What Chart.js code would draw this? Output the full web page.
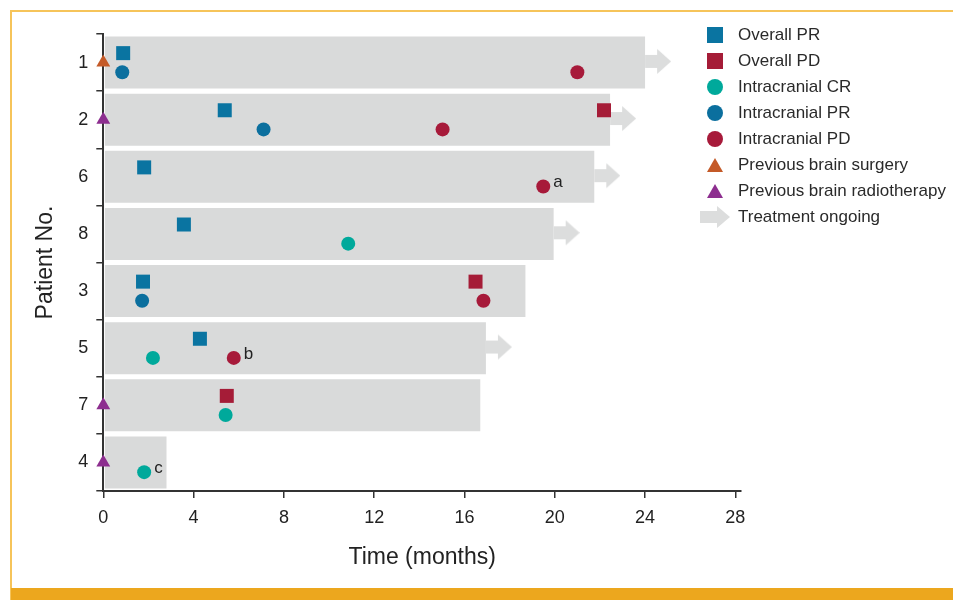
<!DOCTYPE html>
<html>
<head>
<meta charset="utf-8">
<script src="https://cdn.jsdelivr.net/npm/chart.js@4.4.1/dist/chart.umd.min.js"></script>
<style>
  html, body { margin: 0; padding: 0; background: #fff; }
  body { width: 953px; height: 600px; position: relative; overflow: hidden; font-family: "Liberation Sans", Arial, sans-serif; }
  #chart1 { position: absolute; left: 0; top: 0; }
  .frame-top { position: absolute; left: 10px; top: 10px; width: 943px; height: 2px; background: #f6c45a; }
  .frame-left { position: absolute; left: 10px; top: 10px; width: 2px; height: 590px; background: #f6c45a; }
  .frame-bottom { position: absolute; left: 11px; top: 588px; width: 942px; height: 12px; background: #eca71e; }
  #legend { position: absolute; left: 690px; top: 22px; }
  .item { height: 26px; display: flex; align-items: center; font-size: 17px; color: #2a2a2a; white-space: nowrap; }
  .item canvas { display: block; }
</style>
</head>
<body>
<canvas id="chart1" width="953" height="588"></canvas>
<div class="frame-top"></div>
<div class="frame-left"></div>
<div class="frame-bottom"></div>
<div id="legend"></div>
<script>
const patients = ["1", "2", "6", "8", "3", "5", "7", "4"];
const duration = [24.0, 22.45, 21.75, 19.95, 18.7, 16.95, 16.7, 2.8];
const ongoing = ["1", "2", "6", "8", "5"];

// [patient, month]
const overallPR = [["1", 0.88], ["2", 5.38], ["6", 1.81], ["8", 3.57], ["3", 1.76], ["5", 4.28]];
const overallPD = [["2", 22.18], ["3", 16.49], ["7", 5.47]];
const intraCR = [["8", 10.85], ["5", 2.2], ["7", 5.42], ["4", 1.81]];
const intraPR = [["1", 0.84], ["2", 7.1], ["3", 1.72]];
const intraPD = [["1", 21.0], ["2", 15.03], ["6", 19.49], ["3", 16.84], ["5", 5.78]];
const brainSurgery = ["1"];
const brainRadio = ["2", "7", "4"];
const footnotes = [["6", 19.49, "a"], ["5", 5.78, "b"], ["4", 1.81, "c"]];

const xTicks = [0, 4, 8, 12, 16, 20, 24, 28];

// vertical offsets inside a patient row (in row units)
const SQ = -0.165, CI = 0.17, TRI = 0.0, ARW = -0.02;

const rowOf = (p) => patients.indexOf(p);
const pts = (list, dy) => list.map(([p, m]) => ({ x: m, y: rowOf(p) + dy }));

// arrow drawn on the right half so the image starts at the bar end
function arrowImage(len, shaftLen, shaftH, headH, color) {
  const c = document.createElement("canvas");
  c.width = len * 2;
  c.height = headH + 2;
  const g = c.getContext("2d");
  const cy = c.height / 2;
  g.fillStyle = color;
  g.fillRect(len, cy - shaftH / 2, shaftLen, shaftH);
  g.beginPath();
  g.moveTo(len + shaftLen - 1, cy - headH / 2);
  g.lineTo(len * 2, cy);
  g.lineTo(len + shaftLen - 1, cy + headH / 2);
  g.closePath();
  g.fill();
  return c;
}

const arrowColor = "#dcdddd";
const arrowImg = arrowImage(26, 13, 13, 25, arrowColor);

const cht1 = document.getElementById("chart1");

const footnotePlugin = {
  id: "footnotes",
  afterDatasetsDraw(chart) {
    const { ctx, scales } = chart;
    ctx.save();
    ctx.font = "17px 'Liberation Sans', Arial, sans-serif";
    ctx.fillStyle = "#222";
    ctx.textBaseline = "middle";
    ctx.textAlign = "left";
    footnotes.forEach(([p, m, t]) => {
      const x = scales.x.getPixelForValue(m) + 10;
      const y = scales.y2.getPixelForValue(rowOf(p) + CI) - 4;
      ctx.fillText(t, x, y);
    });
    ctx.restore();
  },
};

const scatterBase = { type: "scatter", xAxisID: "x", yAxisID: "y2", clip: false, borderWidth: 0, order: 0 };

const chart = new Chart(cht1, {
  type: "bar",
  data: {
    labels: patients,
    datasets: [
      {
        type: "bar",
        label: "Duration",
        indexAxis: "y",
        xAxisID: "x",
        yAxisID: "y",
        data: duration,
        base: 0.07,
        backgroundColor: "#d9dada",
        barPercentage: 0.91,
        categoryPercentage: 1,
        order: 10,
      },
      { ...scatterBase, label: "Overall PR", data: pts(overallPR, SQ), pointStyle: "rect", pointRadius: 9.9, backgroundColor: "#0a74a1", borderColor: "#0a74a1" },
      { ...scatterBase, label: "Overall PD", data: pts(overallPD, SQ), pointStyle: "rect", pointRadius: 9.9, backgroundColor: "#a51c37", borderColor: "#a51c37" },
      { ...scatterBase, label: "Intracranial CR", data: pts(intraCR, CI), pointStyle: "circle", pointRadius: 7, backgroundColor: "#00a99b", borderColor: "#00a99b" },
      { ...scatterBase, label: "Intracranial PR", data: pts(intraPR, CI), pointStyle: "circle", pointRadius: 7, backgroundColor: "#0b6f9e", borderColor: "#0b6f9e" },
      { ...scatterBase, label: "Intracranial PD", data: pts(intraPD, CI), pointStyle: "circle", pointRadius: 7, backgroundColor: "#a71a3a", borderColor: "#a71a3a" },
      { ...scatterBase, label: "Previous brain surgery", data: brainSurgery.map((p) => ({ x: 0, y: rowOf(p) + TRI })), pointStyle: "triangle", pointRadius: 8, backgroundColor: "#c45a28", borderColor: "#c45a28" },
      { ...scatterBase, label: "Previous brain radiotherapy", data: brainRadio.map((p) => ({ x: 0, y: rowOf(p) + TRI })), pointStyle: "triangle", pointRadius: 8, backgroundColor: "#8d2e8f", borderColor: "#8d2e8f" },
      { ...scatterBase, label: "Treatment ongoing", data: ongoing.map((p) => ({ x: duration[rowOf(p)], y: rowOf(p) + ARW })), pointStyle: arrowImg, backgroundColor: arrowColor, order: 5 },
    ],
  },
  options: {
    responsive: false,
    devicePixelRatio: 1,
    animation: false,
    events: [],
    layout: { padding: { top: 34, right: 212, left: 0, bottom: 0 } },
    plugins: { legend: { display: false }, tooltip: { enabled: false } },
    scales: {
      x: {
        type: "linear",
        position: "bottom",
        offset: false,
        min: 0,
        max: 28.25,
        afterBuildTicks: (s) => { s.ticks = xTicks.map((v) => ({ value: v })); },
        afterFit: (s) => { s.height = 97; },
        grid: { offset: false, drawOnChartArea: false, drawTicks: true, tickLength: 7, color: "#333", lineWidth: 1.5 },
        border: { color: "#333", width: 2 },
        ticks: { font: { family: "'Liberation Sans', Arial, sans-serif", size: 18 }, color: "#222", padding: 9, maxRotation: 0 },
        title: {
          display: true,
          text: "Time (months)",
          color: "#222",
          font: { family: "'Liberation Sans', Arial, sans-serif", size: 23 },
          padding: { top: 0, bottom: 17 },
        },
      },
      y: {
        type: "category",
        position: "left",
        offset: true,
        afterFit: (s) => { s.width = 103.3; },
        grid: { offset: true, drawOnChartArea: false, drawTicks: true, tickLength: 7, color: "#333", lineWidth: 1.5 },
        border: { color: "#333", width: 2 },
        ticks: { font: { family: "'Liberation Sans', Arial, sans-serif", size: 18 }, color: "#222", padding: 8 },
        title: {
          display: true,
          text: "Patient No.",
          color: "#222",
          font: { family: "'Liberation Sans', Arial, sans-serif", size: 23 },
          padding: { top: 32, bottom: 0 },
        },
      },
      y2: {
        type: "linear",
        axis: "y",
        position: "left",
        display: false,
        min: -0.5,
        max: 7.5,
        reverse: true,
      },
    },
  },
  plugins: [footnotePlugin],
});

// legend built from the scatter datasets
function drawMarker(g, ds, cx, cy) {
  g.fillStyle = ds.backgroundColor;
  if (ds.pointStyle === "rect") {
    g.fillRect(cx - 8, cy - 8, 16, 16);
  } else if (ds.pointStyle === "circle") {
    g.beginPath();
    g.arc(cx, cy, 8, 0, Math.PI * 2);
    g.fill();
  } else if (ds.pointStyle === "triangle") {
    g.beginPath();
    g.moveTo(cx, cy - 7);
    g.lineTo(cx + 8, cy + 7);
    g.lineTo(cx - 8, cy + 7);
    g.closePath();
    g.fill();
  } else {
    g.fillRect(cx - 15, cy - 6, 18, 12);
    g.beginPath();
    g.moveTo(cx + 2, cy - 11);
    g.lineTo(cx + 15, cy);
    g.lineTo(cx + 2, cy + 11);
    g.closePath();
    g.fill();
  }
}

const legendEl = document.getElementById("legend");
chart.data.datasets.filter((ds) => ds.type === "scatter").forEach((ds) => {
  const row = document.createElement("div");
  row.className = "item";
  const c = document.createElement("canvas");
  c.width = 48;
  c.height = 26;
  drawMarker(c.getContext("2d"), ds, 25, 13);
  const span = document.createElement("span");
  span.textContent = ds.label;
  row.appendChild(c);
  row.appendChild(span);
  legendEl.appendChild(row);
});
</script>
</body>
</html>
